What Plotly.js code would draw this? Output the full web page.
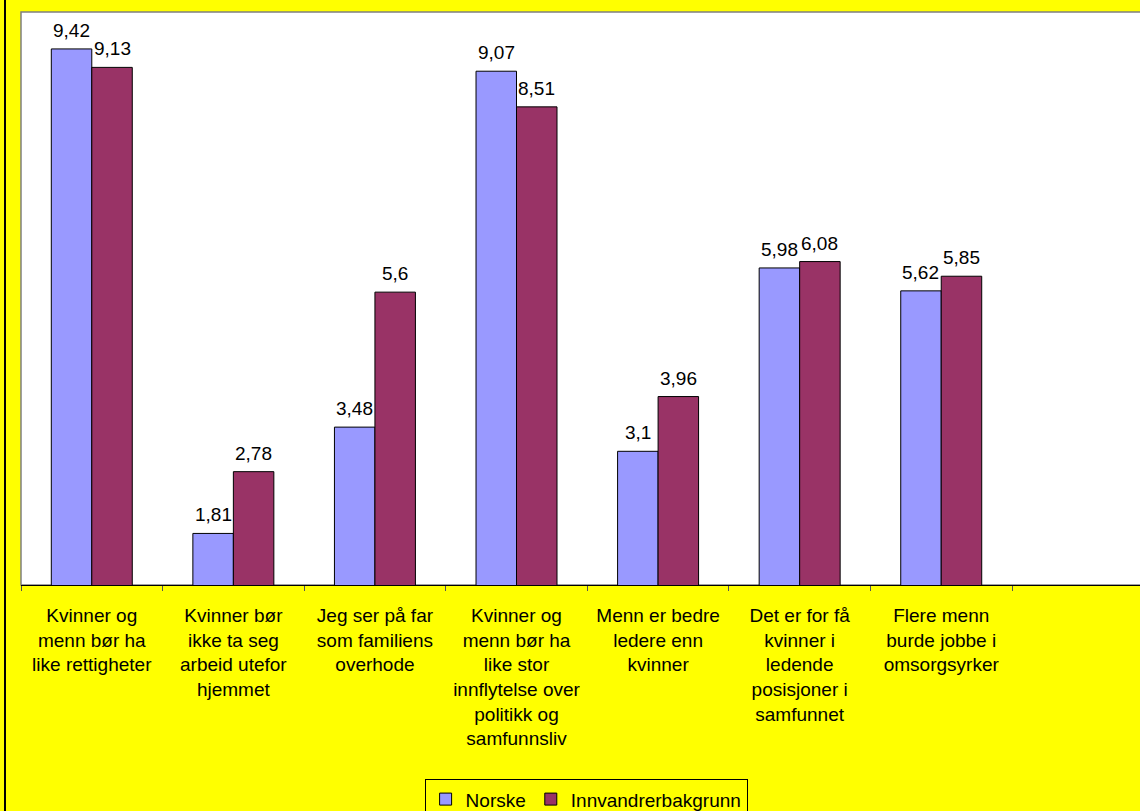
<!DOCTYPE html>
<html>
<head>
<meta charset="utf-8">
<script src="https://cdn.plot.ly/plotly-3.0.1.min.js"></script>
<style>
  html, body { margin: 0; padding: 0; background: #FFFF00; }
  #chart { width: 1140px; height: 811px; }
</style>
</head>
<body>
<div id="chart"></div>
<script>
const categories = [
  "Kvinner og<br>menn bør ha<br>like rettigheter",
  "Kvinner bør<br>ikke ta seg<br>arbeid utefor<br>hjemmet",
  "Jeg ser på far<br>som familiens<br>overhode",
  "Kvinner og<br>menn bør ha<br>like stor<br>innflytelse over<br>politikk og<br>samfunnsliv",
  "Menn er bedre<br>ledere enn<br>kvinner",
  "Det er for få<br>kvinner i<br>ledende<br>posisjoner i<br>samfunnet",
  "Flere menn<br>burde jobbe i<br>omsorgsyrker"
];
const norske = [9.42, 1.81, 3.48, 9.07, 3.1, 5.98, 5.62];
const innvandrer = [9.13, 2.78, 5.6, 8.51, 3.96, 6.08, 5.85];
const seriesNames = ["Norske", "Innvandrerbakgrunn"];

const FONT = "Arial, 'Liberation Sans', sans-serif";
const fmt = v => String(v).replace(".", ",");

const traces = [
  {
    type: "bar", name: seriesNames[0], x: categories, y: norske,
    marker: { color: "#9999FF", line: { color: "#000", width: 1 } },
    hoverinfo: "skip"
  },
  {
    type: "bar", name: seriesNames[1], x: categories, y: innvandrer,
    marker: { color: "#993366", line: { color: "#000", width: 1 } },
    hoverinfo: "skip"
  }
];

// data labels, placed through the axes from the same arrays
const BAR_HALF = 20.25; // pixel offset of each bar centre from its category centre
const labelAnn = (vals, shift) => vals.map((v, i) => ({
  x: categories[i], y: v, xref: "x", yref: "y",
  text: fmt(v), showarrow: false, xanchor: "center", yanchor: "bottom",
  xshift: shift, yshift: 6,
  font: { family: FONT, size: 19, color: "#000" }
}));

const layout = {
  width: 1140, height: 811,
  paper_bgcolor: "#FFFF00",
  plot_bgcolor: "#FFFFFF",
  margin: { l: 21, r: 0, t: 12, b: 226, autoexpand: false },
  font: { family: FONT, size: 19, color: "#000" },
  barmode: "group",
  bargap: 0.428,
  bargroupgap: 0,
  showlegend: true,
  legend: {
    orientation: "h", x: 0.505, xanchor: "center", y: -0.339, yanchor: "top",
    bgcolor: "rgba(0,0,0,0)", bordercolor: "#000", borderwidth: 1,
    font: { family: FONT, size: 19, color: "#000" },
    itemwidth: 30, traceorder: "normal"
  },
  xaxis: {
    type: "category",
    range: [-0.5, 7.404],
    showline: true, linecolor: "#000", linewidth: 1,
    ticks: "outside", tickson: "boundaries", ticklen: 5, tickcolor: "#555", tickwidth: 1,
    showgrid: false, zeroline: false,
    tickangle: 0,
    ticklabelstandoff: 13,
    tickfont: { family: FONT, size: 19, color: "#000" },
    fixedrange: true
  },
  yaxis: {
    range: [1, 10],
    visible: false,
    showgrid: false, zeroline: false, showticklabels: false,
    fixedrange: true
  },
  annotations: labelAnn(norske, -BAR_HALF).concat(labelAnn(innvandrer, BAR_HALF)),
  shapes: [
    { type: "rect", xref: "paper", yref: "paper", x0: 0, x1: 1.02, y0: 0, y1: 1,
      line: { color: "#808080", width: 1.5 }, layer: "below", fillcolor: "rgba(0,0,0,0)" },
    { type: "line", xref: "paper", yref: "paper", x0: -0.0143, x1: -0.0143, y0: -0.4, y1: 1.03,
      line: { color: "#000", width: 2 } }
  ]
};

Plotly.newPlot("chart", traces, layout, { displayModeBar: false, staticPlot: true });
</script>
</body>
</html>
